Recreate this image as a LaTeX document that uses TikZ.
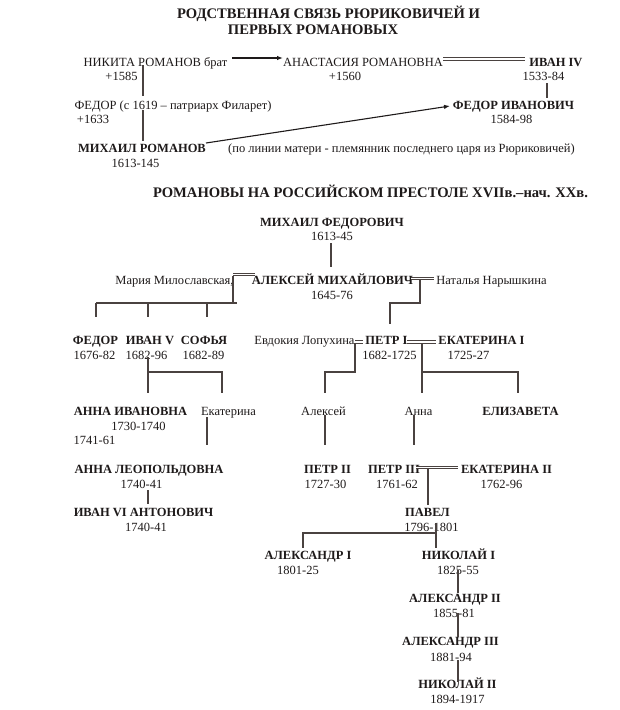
\documentclass[tikz,border=0pt]{standalone}
\usepackage{fontspec}
\setmainfont{Liberation Serif}
\usetikzlibrary{arrows.meta}
\definecolor{ink}{HTML}{1E1A1A}
\definecolor{lncol}{HTML}{4A4240}
\begin{document}
\begin{tikzpicture}[x=1pt,y=-1pt,
 txt/.style={anchor=base, inner sep=0pt, text=ink, font=\fontsize{12.5}{14}\selectfont},
 bld/.style={txt, font=\fontsize{12.5}{14}\selectfont\bfseries},
 ttl/.style={txt, font=\fontsize{14.6}{17}\selectfont\bfseries},
 ln/.style={draw=lncol, line width=1.2pt},
 dbl/.style={draw=lncol, double=white, line width=1.15pt, double distance=1.2pt},
 arr/.style={draw=ink, line width=1.1pt, -{Latex[length=6pt,width=4.5pt]}},
]
\useasboundingbox[fill=white] (0,0) rectangle (620,710);

% ---------- top part ----------
\node[ttl] (t1) at (328.5,18) {РОДСТВЕННАЯ СВЯЗЬ РЮРИКОВИЧЕЙ И};
\node[ttl] (t2) at (313,34) {ПЕРВЫХ РОМАНОВЫХ};
\node[txt] (nikita) at (155.5,66) {НИКИТА РОМАНОВ брат};
\node[txt] (nikitad) at (121.5,80) {+1585};
\node[txt] (fedfil) at (173,109) {ФЕДОР (с 1619 – патриарх Филарет)};
\node[txt] (fedfild) at (93,123) {+1633};
\node[bld] (mikhr) at (142,152) {МИХАИЛ РОМАНОВ};
\node[txt] (mikhrd) at (135.5,167) {1613-145};
\node[txt] (note) at (401.5,152) {(по линии матери - племянник последнего царя из Рюриковичей)};
\node[txt] (anast) at (363,66) {АНАСТАСИЯ РОМАНОВНА};
\node[txt] (anastd) at (345,80) {+1560};
\node[bld] (ivan4) at (556,66) {ИВАН IV};
\node[txt] (ivan4d) at (543.5,80) {1533-84};
\node[bld] (fedi) at (513.5,109) {ФЕДОР ИВАНОВИЧ};
\node[txt] (fedid) at (511.5,123) {1584-98};

\coordinate (a1) at (143,65); \coordinate (a2) at (143,96);
\coordinate (a3) at (143,110); \coordinate (a4) at (143,141);
\coordinate (b1) at (232,58); \coordinate (b2) at (283,58);
\coordinate (c1) at (443,59); \coordinate (c2) at (525,59);
\coordinate (d1) at (547,83); \coordinate (d2) at (547,98);
\coordinate (e1) at (206,143); \coordinate (e2) at (450,106);
\draw[ln] (a1) -- (a2);
\draw[ln] (a3) -- (a4);
\draw[arr] (b1) -- (b2);
\draw[dbl] (c1) -- (c2);
\draw[ln] (d1) -- (d2);
\draw[arr] (e1) -- (e2);

% ---------- bottom part ----------
\node[ttl] (t3) at (370.5,197) {РОМАНОВЫ НА РОССИЙСКОМ ПРЕСТОЛЕ XVIIв.–нач. XXв.};
\node[bld] (mf) at (332,226) {МИХАИЛ ФЕДОРОВИЧ};
\node[txt] (mfd) at (332,240) {1613-45};
\node[txt] (maria) at (174.5,284) {Мария Милославская,};
\node[bld] (alex) at (332.5,284) {АЛЕКСЕЙ МИХАЙЛОВИЧ};
\node[txt] (alexd) at (332,299) {1645-76};
\node[txt] (natal) at (491.5,284) {Наталья Нарышкина};
\node[bld] (fedor3) at (95.5,344) {ФЕДОР};
\node[bld] (ivan5) at (150,344) {ИВАН V};
\node[bld] (sofia) at (204,344) {СОФЬЯ};
\node[txt] (fedor3d) at (94.5,359) {1676-82};
\node[txt] (ivan5d) at (146.5,359) {1682-96};
\node[txt] (sofiad) at (203.5,359) {1682-89};
\node[txt] (evdok) at (304.5,344) {Евдокия Лопухина};
\node[bld] (petr1) at (386.5,344) {ПЕТР I};
\node[bld] (ekat1) at (481.5,344) {ЕКАТЕРИНА I};
\node[txt] (petr1d) at (389.5,359) {1682-1725};
\node[txt] (ekat1d) at (468.5,359) {1725-27};
\node[bld] (annai) at (130.5,415) {АННА ИВАНОВНА};
\node[txt] (ekatr) at (228.5,415) {Екатерина};
\node[txt] (annaid) at (138.5,430) {1730-1740};
\node[txt] (annaid2) at (94.5,444) {1741-61};
\node[bld] (annal) at (149,473) {АННА ЛЕОПОЛЬДОВНА};
\node[txt] (annald) at (141.5,488) {1740-41};
\node[bld] (ivan6) at (143.5,516) {ИВАН VI АНТОНОВИЧ};
\node[txt] (ivan6d) at (146,531) {1740-41};
\node[txt] (alexei) at (323.5,415) {Алексей};
\node[txt] (anna) at (418.5,415) {Анна};
\node[bld] (eliz) at (520.5,415) {ЕЛИЗАВЕТА};
\node[bld] (petr2) at (327.5,473) {ПЕТР II};
\node[txt] (petr2d) at (325.5,488) {1727-30};
\node[bld] (petr3) at (394,473) {ПЕТР III};
\node[bld] (ekat2) at (506.5,473) {ЕКАТЕРИНА II};
\node[txt] (petr3d) at (397,488) {1761-62};
\node[txt] (ekat2d) at (501.5,488) {1762-96};
\node[bld] (pavel) at (427.5,516) {ПАВЕЛ};
\node[txt] (paveld) at (431.5,531) {1796-1801};
\node[bld] (alex1) at (308,559) {АЛЕКСАНДР I};
\node[txt] (alex1d) at (298,574) {1801-25};
\node[bld] (nik1) at (458.5,559) {НИКОЛАЙ I};
\node[txt] (nik1d) at (458,574) {1825-55};
\node[bld] (alex2) at (455,602) {АЛЕКСАНДР II};
\node[txt] (alex2d) at (454,617) {1855-81};
\node[bld] (alex3) at (450.5,645) {АЛЕКСАНДР III};
\node[txt] (alex3d) at (451,661) {1881-94};
\node[bld] (nik2) at (457.5,688) {НИКОЛАЙ II};
\node[txt] (nik2d) at (457.5,703) {1894-1917};

% connector points
\coordinate (f1) at (331,243); \coordinate (f2) at (331,267);
\coordinate (g1) at (233,274.5); \coordinate (g2) at (255,274.5);
\coordinate (g3) at (233,276); \coordinate (g4) at (233,303);
\coordinate (h1) at (96,303); \coordinate (h2) at (237,303);
\coordinate (h3) at (96,317); \coordinate (h4) at (148,303); \coordinate (h5) at (148,317);
\coordinate (h6) at (207,303); \coordinate (h7) at (207,317);
\coordinate (i1) at (411,278.5); \coordinate (i2) at (434,278.5);
\coordinate (i3) at (420,280); \coordinate (i4) at (420,303);
\coordinate (i5) at (390,303); \coordinate (i6) at (390,324);
\coordinate (j1) at (355,342); \coordinate (j2) at (363,342);
\coordinate (j3) at (355,343); \coordinate (j4) at (355,372);
\coordinate (j5) at (325,372); \coordinate (j6) at (325,393);
\coordinate (k1) at (407,342); \coordinate (k2) at (436,342);
\coordinate (k3) at (422,343); \coordinate (k4) at (422,393);
\coordinate (k5) at (422,372); \coordinate (k6) at (518,372); \coordinate (k7) at (518,393);
\coordinate (m1) at (148,357); \coordinate (m2) at (148,393);
\coordinate (m3) at (148,372); \coordinate (m4) at (222,372); \coordinate (m5) at (222,393);
\coordinate (n1) at (207,417); \coordinate (n2) at (207,445);
\coordinate (n3) at (148,490); \coordinate (n4) at (148,504);
\coordinate (o1) at (325,415); \coordinate (o2) at (325,445);
\coordinate (o3) at (414,415); \coordinate (o4) at (414,445);
\coordinate (p1) at (416,467.7); \coordinate (p2) at (458,467.7);
\coordinate (p3) at (428,469); \coordinate (p4) at (428,505);
\coordinate (q1) at (436,523); \coordinate (q2) at (436,548);
\coordinate (q3) at (436,533); \coordinate (q4) at (303,533); \coordinate (q5) at (303,548);
\coordinate (r1) at (458,570); \coordinate (r2) at (458,593);
\coordinate (r3) at (458,613); \coordinate (r4) at (458,637);
\coordinate (r5) at (458,660); \coordinate (r6) at (458,682);

\draw[ln] (f1) -- (f2);
\draw[dbl] (g1) -- (g2);
\draw[ln] (g3) -- (g4);
\draw[ln] (h1) -- (h2);
\draw[ln] (h1) -- (h3);
\draw[ln] (h4) -- (h5);
\draw[ln] (h6) -- (h7);
\draw[dbl] (i1) -- (i2);
\draw[ln] (i3) -- (i4) -- (i5) -- (i6);
\draw[dbl] (j1) -- (j2);
\draw[ln] (j3) -- (j4) -- (j5) -- (j6);
\draw[dbl] (k1) -- (k2);
\draw[ln] (k3) -- (k4);
\draw[ln] (k5) -- (k6) -- (k7);
\draw[ln] (m1) -- (m2);
\draw[ln] (m3) -- (m4) -- (m5);
\draw[ln] (n1) -- (n2);
\draw[ln] (n3) -- (n4);
\draw[ln] (o1) -- (o2);
\draw[ln] (o3) -- (o4);
\draw[dbl] (p1) -- (p2);
\draw[ln] (p3) -- (p4);
\draw[ln] (q1) -- (q2);
\draw[ln] (q3) -- (q4) -- (q5);
\draw[ln] (r1) -- (r2);
\draw[ln] (r3) -- (r4);
\draw[ln] (r5) -- (r6);
\end{tikzpicture}
\end{document}
